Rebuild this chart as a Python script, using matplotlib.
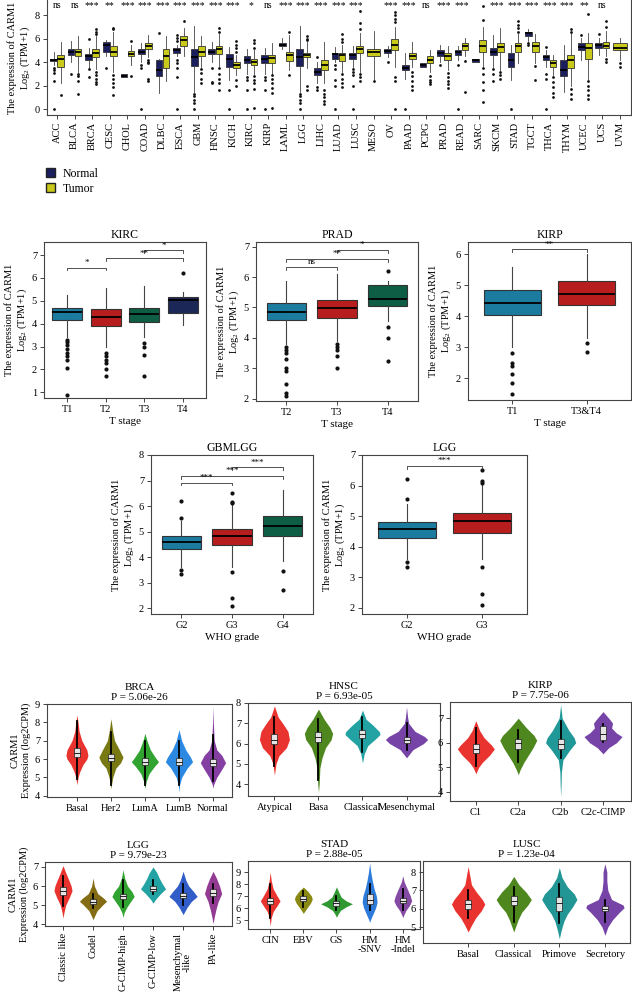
import matplotlib
matplotlib.use("Agg")
import matplotlib.pyplot as plt
from matplotlib.patches import Patch, Rectangle
import numpy as np

plt.rcParams["font.family"] = ["Liberation Serif", "DejaVu Serif"]
plt.rcParams["mathtext.fontset"] = "custom"
plt.rcParams["mathtext.rm"] = "Liberation Serif"
plt.rcParams["mathtext.default"] = "regular"

W, H = 632, 997

# ---------------- pan-cancer panel ----------------
cancers = ["ACC", "BLCA", "BRCA", "CESC", "CHOL", "COAD", "DLBC", "ESCA", "GBM", "HNSC",
           "KICH", "KIRC", "KIRP", "LAML", "LGG", "LIHC", "LUAD", "LUSC", "MESO", "OV",
           "PAAD", "PCPG", "PRAD", "READ", "SARC", "SKCM", "STAD", "TGCT", "THCA", "THYM",
           "UCEC", "UCS", "UVM"]
cancer_sig = ["ns", "ns", "***", "**", "***", "***", "***", "***", "***", "***", "***", "*",
              "ns", "***", "***", "***", "***", "***", "", "***", "***", "ns", "***", "***",
              "", "***", "***", "***", "***", "***", "**", "ns", ""]
# (whisker low, q1, median, q3, whisker high)
normal_box = [(3.8, 4.1, 4.2, 4.3, 4.9), (4.0, 4.6, 4.9, 5.1, 5.8), (3.5, 4.2, 4.5, 4.7, 5.2),
              (4.5, 4.9, 5.5, 5.7, 5.9), (2.7, 2.75, 2.85, 3.0, 3.0), (4.0, 4.7, 4.9, 5.1, 5.6),
              (1.4, 2.8, 3.3, 4.2, 4.3), (4.5, 4.8, 5.0, 5.2, 5.5), (1.5, 3.7, 4.4, 5.1, 7.1),
              (4.0, 4.7, 4.9, 5.1, 5.7), (2.5, 3.6, 4.3, 4.7, 5.3), (3.0, 3.9, 4.2, 4.5, 5.1),
              (3.0, 3.9, 4.3, 4.6, 5.2), (5.1, 5.4, 5.5, 5.6, 6.1), (1.5, 3.7, 4.4, 5.1, 7.1),
              (2.2, 2.9, 3.2, 3.5, 4.0), (4.0, 4.3, 4.7, 4.8, 5.3), (3.6, 4.3, 4.6, 4.75, 5.4),
              None, (4.4, 4.75, 4.95, 5.1, 5.4), (2.6, 3.3, 3.5, 3.75, 4.8),
              (3.6, 3.6, 3.75, 3.9, 3.9), (4.0, 4.5, 4.8, 5.0, 5.5), (4.2, 4.6, 4.85, 5.0, 5.4),
              (4.0, 4.0, 4.15, 4.3, 4.3), (3.6, 4.6, 4.9, 5.2, 6.3), (2.5, 3.6, 4.2, 4.75, 5.5),
              (5.8, 6.2, 6.45, 6.6, 6.8), (3.6, 4.2, 4.45, 4.6, 5.0), (1.5, 2.8, 3.3, 4.2, 5.5),
              (4.2, 5.0, 5.3, 5.6, 6.1), (4.6, 5.2, 5.45, 5.6, 6.1), None]
normal_fliers = [[3.5, 3.3, 3.1, 2.4, 0], [3.0], [6.0, 3.4, 2.7], [3.5], [], [3.8, 3.5, 0],
                 [6.5], [6.3, 6.1, 5.8, 4.2, 3.9, 3.5, 2.7, 0], [1.3, 1.1, 0.8, 0.5, 0],
                 [3.5, 2.3, 2.2], [1.6, 0], [2.7, 2.5, 1.6, 0], [2.7, 2.5, 1.6, 0], [],
                 [1.3, 1.1, 0.8, 0.5, 0], [4.4, 1.9, 1.6], [3.8, 3.4, 2.5, 2.0, 0],
                 [3.4, 3.2, 2.9, 2.0, 0], [], [4.0], [0], [], [3.8], [3.8, 0], [],
                 [3.4, 3.0, 2.4], [0], [5.6, 5.5], [5.3, 3.0, 2.6, 0], [], [6.3], [6.4], []]
tumor_box = [(2.2, 3.6, 4.3, 4.6, 5.7), (3.2, 4.5, 4.9, 5.1, 6.2), (3.4, 4.4, 4.8, 5.1, 6.2),
             (3.2, 4.5, 4.9, 5.4, 6.6), (3.8, 4.5, 4.7, 4.95, 5.5), (4.4, 5.1, 5.4, 5.6, 6.3),
             (2.4, 3.5, 4.5, 5.1, 6.2), (4.5, 5.4, 5.85, 6.2, 6.9), (3.6, 4.5, 4.9, 5.4, 6.2),
             (3.7, 4.7, 5.1, 5.4, 6.4), (2.9, 3.5, 3.8, 4.0, 4.6), (3.0, 3.8, 4.05, 4.3, 5.0),
             (3.0, 3.9, 4.35, 4.6, 5.6), (3.3, 4.1, 4.6, 4.9, 6.3), (3.5, 4.4, 4.6, 4.8, 5.7),
             (2.2, 3.3, 3.8, 4.2, 5.7), (3.2, 4.1, 4.6, 4.75, 5.5), (3.2, 4.75, 5.1, 5.4, 6.5),
             (2.6, 4.5, 4.9, 5.1, 6.7), (3.6, 5.0, 5.5, 6.0, 7.0), (3.6, 4.25, 4.5, 4.8, 5.7),
             (3.2, 3.9, 4.2, 4.5, 5.0), (3.3, 4.2, 4.5, 4.75, 5.4), (4.5, 5.0, 5.35, 5.6, 6.1),
             (3.7, 4.9, 5.4, 5.9, 7.0), (3.3, 4.9, 5.3, 5.6, 6.9), (3.9, 4.9, 5.35, 5.65, 6.4),
             (3.9, 4.9, 5.35, 5.7, 6.4), (2.9, 3.6, 3.9, 4.2, 4.6), (2.0, 3.5, 4.2, 4.6, 6.5),
             (2.6, 4.3, 5.2, 5.6, 6.5), (4.5, 5.2, 5.4, 5.7, 6.7), (4.2, 5.0, 5.25, 5.6, 6.1)]
tumor_fliers = [[1.2], [3.0, 2.8, 2.4, 1.3], [6.4, 6.6, 6.8, 3.2, 2.9, 2.6, 2.3, 2.1],
                [6.8, 6.9, 2.9, 2.6, 2.2, 1.9, 1.2], [5.8, 2.8], [4.2, 4.0, 3.9, 2.6, 2.4], [],
                [7.5], [3.4, 3.1, 2.6, 2.2], [6.6, 6.9, 3.5, 3.0, 2.6, 2.2, 1.6],
                [4.9, 5.2, 5.5, 5.8, 2.5, 2.0], [5.2, 5.6, 5.9, 2.8, 2.5, 2.2, 1.7, 0.1],
                [2.9, 2.6, 2.2, 1.8, 1.4, 0.1], [6.6, 2.9], [6.2, 6.0, 5.9, 2.0, 1.6],
                [1.6, 1.3, 1.0, 0.7, 0.4], [5.7, 6.0, 6.4, 3.0, 2.6, 2.2, 1.9],
                [6.8, 7.3, 8.4, 3.0, 2.7, 2.4], [2.4], [7.4, 7.7, 8.0, 8.3, 2.7, 2.4, 0],
                [3.2, 2.8, 2.4, 2.0, 1.6], [2.8, 2.5, 2.3, 2.1], [3.1, 2.7, 2.4, 2.1, 1.8],
                [4.1, 1.5], [8.8, 7.6, 3.5, 3.0, 2.3, 1.6, 0.6], [3.2, 2.9, 2.6],
                [6.6, 6.9, 7.2, 7.5], [3.7, 2.5], [2.7, 2.3, 1.9, 1.4, 1.0],
                [6.6, 6.8, 1.7, 1.3, 0.9], [8.1, 2.4, 2.0, 1.6, 1.2, 0.9], [7.0, 7.5, 4.3, 4.0],
                [3.9, 3.6]]

# ---------------- clinical stage / grade panels ----------------
kirc_groups = ["T1", "T2", "T3", "T4"]
kirc_box = [(3.42, 4.18, 4.5, 4.7, 5.27), (3.0, 3.89, 4.3, 4.62, 5.58),
            (3.4, 4.08, 4.42, 4.69, 5.64), (3.95, 4.47, 5.05, 5.17, 5.4)]
kirc_fliers = [[3.3, 3.2, 3.05, 2.9, 2.7, 2.6, 2.4, 2.05, 0.9], [2.7, 2.6, 2.4, 2.3, 2.0, 1.7],
               [3.15, 3.0, 2.65, 1.7], [6.2]]
kirc_sig = [(1, 2, 6.45, "*"), (2, 4, 6.85, "**"), (3, 4, 7.2, "*")]

prad_groups = ["T2", "T3", "T4"]
prad_box = [(3.8, 4.58, 4.85, 5.14, 5.86), (3.9, 4.64, 4.97, 5.26, 6.1),
            (4.57, 5.04, 5.28, 5.73, 5.86)]
prad_fliers = [[3.7, 3.6, 3.5, 3.3, 3.0, 2.9, 2.5, 2.2, 2.1], [3.8, 3.7, 3.6, 3.4, 3.0],
               [6.2, 4.35, 4.0, 3.25]]
prad_sig = [(1, 2, 6.34, "ns"), (1, 3, 6.6, "**"), (2, 3, 6.89, "*")]

kirp_groups = ["T1", "T3&T4"]
kirp_box = [(3.0, 4.04, 4.43, 4.83, 5.57), (3.3, 4.35, 4.71, 5.12, 6.0)]
kirp_fliers = [[2.8, 2.5, 2.4, 2.15, 1.85, 1.5], [3.15, 2.85]]
kirp_sig = [(1, 2, 6.15, "**")]

gbmlgg_groups = ["G2", "G3", "G4"]
gbmlgg_box = [(3.6, 4.31, 4.6, 4.81, 5.4), (3.6, 4.46, 4.83, 5.1, 6.05),
              (3.83, 4.81, 5.22, 5.6, 6.63)]
gbmlgg_fliers = [[6.2, 5.55, 3.5, 3.35], [6.5, 6.15, 6.1, 3.4, 2.4, 2.1], [3.45, 2.7]]
gbmlgg_sig = [(1, 2, 6.92, "***"), (1, 3, 7.19, "***"), (2, 3, 7.52, "***")]

lggw_groups = ["G2", "G3"]
lggw_box = [(3.6, 4.3, 4.57, 4.8, 5.4), (3.6, 4.44, 4.84, 5.1, 6.05)]
lggw_fliers = [[6.2, 5.55, 3.5, 3.35], [6.5, 6.15, 6.1, 3.35, 2.45, 2.1]]
lggw_sig = [(1, 2, 6.64, "***")]

# ---------------- subtype violins: (value, relative density) ----------------
brca_groups = ["Basal", "Her2", "LumA", "LumB", "Normal"]
brca_peak = [0.81, 0.89, 1.0, 1.0, 0.93]
brca_prof = [
    [(4.6, 0), (5.0, .1), (5.3, .25), (5.7, .55), (6.0, .9), (6.2, 1), (6.5, .9), (7.0, .45), (7.5, .2), (8.0, .1), (8.4, 0)],
    [(4.4, 0), (5.0, .15), (5.5, .4), (5.8, .8), (6.1, 1), (6.5, .7), (7.0, .3), (7.5, .15), (8.2, 0)],
    [(4.4, 0), (4.8, .1), (5.2, .3), (5.6, .7), (5.85, 1), (6.1, .75), (6.5, .4), (7.0, .15), (7.4, 0)],
    [(4.2, 0), (4.6, .05), (5.0, .2), (5.5, .6), (5.85, 1), (6.1, .85), (6.5, .5), (7.0, .2), (7.6, 0)],
    [(4.4, 0), (4.6, .05), (5.0, .3), (5.5, .75), (5.8, 1), (6.2, .7), (6.5, .3), (7.0, .1), (8.0, .03), (8.9, 0)]]
brca_inner = [(4.9, 6.1, 6.35, 6.6, 8.1), (4.6, 5.9, 6.05, 6.25, 7.5), (4.6, 5.65, 5.85, 6.05, 7.0),
              (4.6, 5.65, 5.85, 6.05, 7.0), (4.8, 5.6, 5.8, 6.0, 7.3)]

hnsc_groups = ["Atypical", "Basa", "Classical", "Mesenchymal"]
hnsc_peak = [0.71, 0.67, 0.83, 1.0]
hnsc_prof = [
    [(4.45, 0), (5.0, .1), (5.4, .3), (5.8, .8), (6.2, 1), (6.6, .9), (7.0, .55), (7.3, .25), (7.85, 0)],
    [(3.6, 0), (4.0, .05), (4.8, .1), (5.3, .25), (5.8, .5), (6.2, .9), (6.5, 1), (6.8, .8), (7.2, .4), (7.7, 0)],
    [(5.05, 0), (5.5, .1), (5.9, .3), (6.2, .7), (6.45, 1), (6.6, .95), (6.9, .6), (7.2, .2), (7.65, 0)],
    [(5.3, 0), (5.7, .3), (6.0, .8), (6.2, 1), (6.35, .85), (6.6, .4), (7.0, .1), (7.3, .05), (7.8, 0)]]
hnsc_inner = [(4.9, 6.0, 6.2, 6.45, 7.3), (4.2, 6.1, 6.35, 6.55, 7.2), (5.6, 6.3, 6.45, 6.65, 7.3),
              (5.7, 6.05, 6.2, 6.35, 7.0)]

kirpv_groups = ["C1", "C2a", "C2b", "C2c-CIMP"]
kirpv_peak = [0.97, 0.97, 0.79, 1.0]
kirpv_prof = [
    [(4.74, 0), (5.0, .15), (5.2, .35), (5.5, .75), (5.75, 1), (5.9, .85), (6.2, .45), (6.5, .2), (6.9, 0)],
    [(4.7, 0), (4.9, .1), (5.2, .3), (5.5, .55), (5.8, .8), (6.1, 1), (6.3, .85), (6.6, .45), (7.0, 0)],
    [(3.8, 0), (4.3, .03), (4.8, .05), (5.3, .15), (5.7, .6), (6.0, 1), (6.2, .9), (6.5, .55), (7.0, .1), (7.55, 0)],
    [(5.55, 0), (5.8, .3), (6.0, .7), (6.25, 1), (6.4, .7), (6.6, .45), (6.8, .5), (7.0, .3), (7.27, 0)]]
kirpv_inner = [(5.05, 5.6, 5.75, 5.95, 6.6), (5.2, 5.75, 6.0, 6.15, 6.5), (5.4, 5.75, 5.95, 6.15, 6.9),
               (6.05, 6.1, 6.35, 6.7, 6.75)]

lggv_groups = ["Classic like", "Codel", "G-CIMP-high", "G-CIMP-low", "Mesenchymal\n-like", "PA-like"]
lggv_peak = [0.64, 0.96, 0.79, 0.89, 1.0, 0.61]
lggv_prof = [
    [(4.32, 0), (4.6, .1), (5.0, .3), (5.4, .7), (5.75, 1), (6.0, .9), (6.3, .65), (6.7, .3), (7.07, 0)],
    [(4.23, 0), (4.4, .1), (4.7, .3), (5.0, .7), (5.2, 1), (5.35, .8), (5.6, .35), (6.0, .1), (6.42, 0)],
    [(4.35, 0), (4.6, .1), (4.9, .35), (5.2, .7), (5.45, 1), (5.7, .8), (6.0, .4), (6.4, .15), (6.85, 0)],
    [(5.1, 0), (5.3, .2), (5.6, .6), (5.85, 1), (6.1, .75), (6.4, .5), (6.7, .3), (7.0, 0)],
    [(4.5, 0), (4.9, .3), (5.2, .6), (5.45, 1), (5.7, .75), (6.0, .4), (6.3, .2), (6.77, 0)],
    [(4.02, 0), (4.4, .15), (4.8, .35), (5.2, .6), (5.6, 1), (6.0, .75), (6.4, .4), (6.77, 0)]]
lggv_inner = [(4.95, 5.55, 5.75, 5.95, 6.5), (4.85, 5.05, 5.15, 5.3, 5.6), (4.9, 5.3, 5.45, 5.6, 6.3),
              (5.6, 5.75, 5.85, 6.0, 6.3), (5.0, 5.35, 5.5, 5.65, 6.1), (5.1, 5.5, 5.65, 5.85, 6.1)]

stad_groups = ["CIN", "EBV", "GS", "HM\n-SNV", "HM\n-Indel"]
stad_peak = [0.62, 0.56, 1.0, 0.47, 0.56]
stad_prof = [
    [(4.5, 0), (5.2, .1), (5.7, .3), (6.2, .7), (6.6, 1), (7.0, .7), (7.6, .3), (8.3, .1), (9.0, 0)],
    [(5.55, 0), (6.0, .4), (6.4, .8), (6.75, 1), (7.0, .9), (7.4, .5), (7.75, 0)],
    [(5.23, 0), (5.5, .1), (5.8, .25), (6.1, .6), (6.35, 1), (6.6, .6), (6.9, .3), (7.3, .15), (7.76, 0)],
    [(4.8, 0), (5.0, .1), (5.5, .45), (6.0, .8), (6.5, 1), (7.0, .9), (7.6, .6), (8.3, .35), (9.0, .15), (9.75, 0)],
    [(5.2, 0), (5.4, .1), (5.8, .35), (6.2, .75), (6.6, 1), (7.0, .85), (7.6, .5), (8.2, .15), (8.7, 0)]]
stad_inner = [(5.2, 6.35, 6.6, 6.85, 8.0), (6.1, 6.55, 6.75, 7.0, 7.4), (5.8, 6.2, 6.4, 6.55, 7.0),
              (5.8, 6.3, 6.7, 7.2, 8.0), (5.8, 6.45, 6.6, 6.85, 7.6)]

lusc_groups = ["Basal", "Classical", "Primove", "Secretory"]
lusc_peak = [0.87, 0.92, 0.92, 1.0]
lusc_prof = [
    [(4.73, 0), (5.1, .2), (5.5, .45), (5.9, .8), (6.25, 1), (6.5, .85), (6.9, .5), (7.3, .2), (7.8, .1), (8.3, 0)],
    [(4.73, 0), (5.0, .1), (5.4, .25), (5.8, .45), (6.2, .8), (6.5, 1), (6.9, .7), (7.3, .3), (7.76, 0)],
    [(4.36, 0), (4.8, .1), (5.3, .25), (5.7, .45), (6.1, .75), (6.5, 1), (6.8, .85), (7.2, .45), (7.7, .15), (8.24, 0)],
    [(4.55, 0), (5.0, .15), (5.4, .4), (5.8, .75), (6.05, 1), (6.2, .95), (6.5, .35), (7.0, .15), (7.5, .1), (8.0, .1), (8.45, 0)]]
lusc_inner = [(5.5, 6.0, 6.25, 6.45, 7.0), (5.3, 6.2, 6.4, 6.7, 7.2), (5.2, 5.85, 6.3, 6.65, 7.35),
              (5.3, 5.9, 6.0, 6.15, 6.5)]

NAVY = "#1b1f5e"
YELLOW = "#c9c91c"
STAGE_COLORS = ["#1b7ca0", "#b81d1d", "#0e5e46", "#1b2857"]
RED, GREEN, TEAL, PURPLE = "#e8211c", "#3e7d0b", "#0f9a9a", "#6a34a0"
SPINE = "#444444"


def rect(left, top, right, bottom):
    return [left / W, 1 - bottom / H, (right - left) / W, (bottom - top) / H]


def stats(box, fliers):
    lo, q1, med, q3, hi = box
    return dict(whislo=lo, q1=q1, med=med, q3=q3, whishi=hi, fliers=fliers)


def style_axes(ax, fs=7.5):
    for s in ax.spines.values():
        s.set_color(SPINE)
        s.set_linewidth(0.8)
    ax.tick_params(direction="out", length=3, width=0.7, color=SPINE, labelsize=fs, pad=2)


def draw_boxes(ax, st, pos, width, color, lw=0.7, ms=2.3):
    ax.bxp(st, positions=pos, widths=width, patch_artist=True, showcaps=False,
           boxprops=dict(facecolor=color, edgecolor="#333333", linewidth=lw),
           medianprops=dict(color="black", linewidth=1.3),
           whiskerprops=dict(color="#444444", linewidth=lw),
           flierprops=dict(marker="o", markersize=ms, markerfacecolor="#111111",
                           markeredgecolor="none"))


fig = plt.figure(figsize=(W / 100, H / 100), dpi=100)

# ---- top panel ----
ax = fig.add_axes(rect(47, 0, 631, 115))
n_st, n_pos, n_w, t_st, t_pos, t_w = [], [], [], [], [], []
for i in range(len(cancers)):
    if normal_box[i] is None:
        t_st.append(stats(tumor_box[i], tumor_fliers[i])); t_pos.append(i); t_w.append(0.75)
    else:
        n_st.append(stats(normal_box[i], normal_fliers[i])); n_pos.append(i - 0.2); n_w.append(0.38)
        t_st.append(stats(tumor_box[i], tumor_fliers[i])); t_pos.append(i + 0.2); t_w.append(0.38)
draw_boxes(ax, n_st, n_pos, n_w, NAVY, lw=0.6, ms=2.0)
draw_boxes(ax, t_st, t_pos, t_w, YELLOW, lw=0.6, ms=2.0)
for i, s in enumerate(cancer_sig):
    if s:
        ax.text(i, 8.85, s, ha="center", va="center", fontsize=7)
ax.set_xlim(-0.57, 32.63)
ax.set_ylim(-0.5, 9.3)
ax.set_yticks([0, 2, 4, 6, 8])
ax.set_xticks(range(len(cancers)))
ax.set_xticklabels(cancers, rotation=90)
style_axes(ax)
ax.spines["top"].set_visible(False)
ax.set_ylabel("The expression of CARM1\nLog$_2$ (TPM+1)", fontsize=7.5, labelpad=2)
fig.legend([Patch(facecolor=NAVY, edgecolor="#222"), Patch(facecolor=YELLOW, edgecolor="#222")],
           ["Normal", "Tumor"], loc="upper left", bbox_to_anchor=(46 / W, 1 - 168 / H),
           frameon=False, fontsize=8.5, handlelength=0.8, handleheight=0.8,
           handletextpad=0.6, labelspacing=0.25, borderaxespad=0, borderpad=0)


def stage_panel(r, title, groups, boxes, fliers, sig, ylim, yticks, xlabel):
    ax = fig.add_axes(r)
    n = len(groups)
    st = [stats(b, f) for b, f in zip(boxes, fliers)]
    for k in range(n):
        draw_boxes(ax, [st[k]], [k + 1], 0.78, STAGE_COLORS[k], lw=0.8, ms=3.0)
    rng = ylim[1] - ylim[0]
    for a, b, y, s in sig:
        d = 0.018 * rng
        ax.plot([a, a, b, b], [y - d, y, y, y - d], color="#333", lw=0.6)
        ax.text((a + b) / 2, y + 0.005 * rng, s, ha="center", va="bottom", fontsize=6.5)
    ax.set_xlim(0.4, n + 0.6)
    ax.set_ylim(*ylim)
    ax.set_yticks(yticks)
    ax.set_xticks(range(1, n + 1))
    ax.set_xticklabels(groups)
    style_axes(ax)
    ax.set_title(title, fontsize=8.5, pad=3)
    ax.set_xlabel(xlabel, fontsize=8, labelpad=2)
    ax.set_ylabel("The expression of CARM1\nLog$_2$ (TPM+1)", fontsize=7.5, labelpad=2)


stage_panel(rect(44, 242, 206, 398), "KIRC", kirc_groups, kirc_box, kirc_fliers, kirc_sig,
            (0.75, 7.57), range(1, 8), "T stage")
stage_panel(rect(256, 242, 418, 401), "PRAD", prad_groups, prad_box, prad_fliers, prad_sig,
            (1.93, 7.15), range(2, 8), "T stage")
stage_panel(rect(468, 242, 631, 400), "KIRP", kirp_groups, kirp_box, kirp_fliers, kirp_sig,
            (1.3, 6.39), range(2, 7), "T stage")
stage_panel(rect(151, 455, 313, 614), "GBMLGG", gbmlgg_groups, gbmlgg_box, gbmlgg_fliers,
            gbmlgg_sig, (1.77, 8.0), range(2, 9), "WHO grade")
stage_panel(rect(362, 455, 527, 614), "LGG", lggw_groups, lggw_box, lggw_fliers, lggw_sig,
            (1.8, 7.0), range(2, 8), "WHO grade")


def violin_panel(r, title, pval, groups, colors, profiles, peaks, inner, ylim, yticks,
                 xlim, scale, rot=0, ylabel=False):
    ax = fig.add_axes(r)
    px_per_unit = r[2] * W / (xlim[1] - xlim[0])
    bw = 6 / px_per_unit
    for k, (prof, c, pk, st) in enumerate(zip(profiles, colors, peaks, inner), start=1):
        ys = np.array([p[0] for p in prof])
        ds = np.array([p[1] for p in prof]) * pk * scale
        ax.fill_betweenx(ys, k - ds, k + ds, color=c, alpha=0.92, lw=0)
        lo, q1, med, q3, hi = st
        ax.plot([k, k], [lo, hi], color="black", lw=1.3)
        ax.add_patch(Rectangle((k - bw / 2, q1), bw, q3 - q1, facecolor="#e4e4e4",
                               edgecolor="#222", lw=0.5, zorder=3))
        ax.plot([k - bw / 2, k + bw / 2], [med, med], color="#222", lw=0.7, zorder=4)
    ax.set_xlim(*xlim)
    ax.set_ylim(*ylim)
    ax.set_yticks(yticks)
    ax.set_xticks(range(1, len(groups) + 1))
    ax.set_xticklabels(groups, rotation=rot, linespacing=1.0)
    style_axes(ax, fs=7.5)
    ax.set_title(f"{title}\nP = {pval}", fontsize=8, pad=3, linespacing=1.15)
    if ylabel:
        ax.set_ylabel("CARM1\nExpression (log2CPM)", fontsize=7.5, labelpad=3)


violin_panel(rect(47, 704, 232, 797), "BRCA", "5.06e-26", brca_groups,
             [RED, "#6e6e00", "#1e9b1e", "#1a7fe0", "#7b2e9b"], brca_prof, brca_peak,
             brca_inner, (3.93, 9.0), range(4, 10), (0.12, 5.56), 0.40, ylabel=True)
violin_panel(rect(248, 703, 440, 796), "HNSC", "6.93e-05", hnsc_groups,
             [RED, GREEN, TEAL, PURPLE], hnsc_prof, hnsc_peak, hnsc_inner,
             (3.42, 7.95), range(4, 9), (0.4, 4.76), 0.48)
violin_panel(rect(450, 702, 631, 801), "KIRP", "7.75e-06", kirpv_groups,
             [RED, GREEN, "#0e8f8f", PURPLE], kirpv_prof, kirpv_peak, kirpv_inner,
             (3.63, 7.66), range(4, 8), (0.39, 4.66), 0.45)
violin_panel(rect(45, 862, 232, 926), "LGG", "9.79e-23", lggv_groups,
             [RED, "#7a5f00", "#1e9b1e", TEAL, "#1e4fc3", "#8a2a8a"], lggv_prof, lggv_peak,
             lggv_inner, (3.9, 7.26), range(4, 8), (0.4, 6.63), 0.47, rot=90, ylabel=True)
violin_panel(rect(248, 861, 420, 929), "STAD", "2.88e-05", stad_groups,
             [RED, "#7f7f00", "#1e8f1e", "#1a70d8", "#7b3a9b"], stad_prof, stad_peak,
             stad_inner, (4.25, 9.92), range(5, 10), (0.33, 5.52), 0.48)
violin_panel(rect(423, 861, 630, 943), "LUSC", "1.23e-04", lusc_groups,
             [RED, GREEN, "#0f8c8c", PURPLE], lusc_prof, lusc_peak, lusc_inner,
             (4.13, 8.6), range(5, 9), (0.01, 4.55), 0.42)

fig.savefig("out.png", dpi=100)
